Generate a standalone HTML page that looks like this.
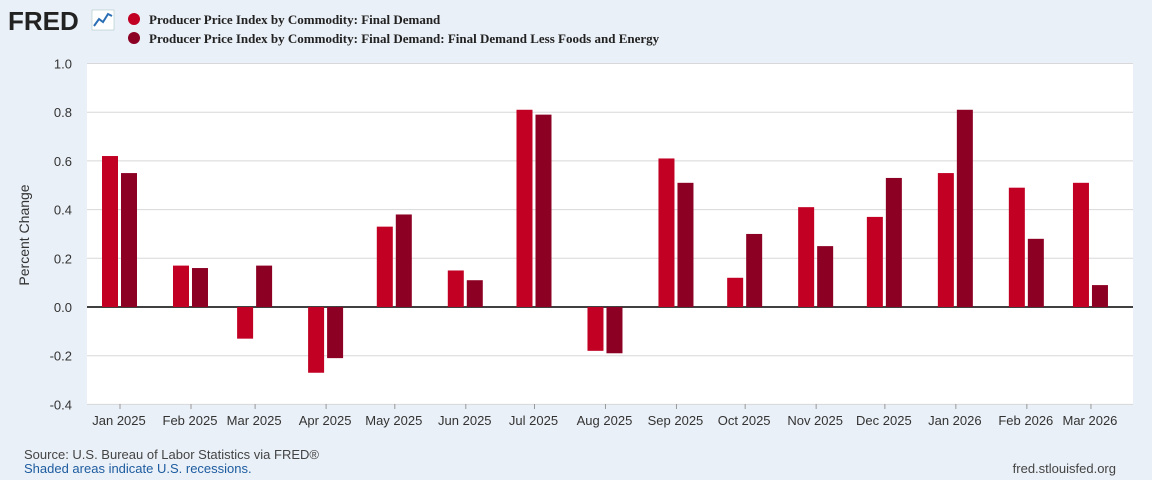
<!DOCTYPE html>
<html><head><meta charset="utf-8"><style>
body{margin:0;width:1152px;height:480px;background:#eaf0f7;font-family:"Liberation Sans",sans-serif;overflow:hidden}
svg{display:block}
</style></head><body>
<svg width="1152" height="480">
<g>
<text x="8" y="30" font-size="26" font-weight="bold" fill="#222" font-family="Liberation Sans">FRED</text>
<rect x="92" y="10" width="22" height="20" fill="#fff" stroke="#9bb" stroke-width="0.5"/>
<polyline points="94,26 99,19 103,22 108,14 112,16" fill="none" stroke="#2a6eb5" stroke-width="2"/>
</g>
<g>
<circle cx="134" cy="19" r="6" fill="#c10023"/>
<text x="149" y="24" font-family="Liberation Serif" font-weight="bold" font-size="13" fill="#222">Producer Price Index by Commodity: Final Demand</text>
<circle cx="134" cy="38" r="6" fill="#8c0024"/>
<text x="149" y="43" font-family="Liberation Serif" font-weight="bold" font-size="13" fill="#222">Producer Price Index by Commodity: Final Demand: Final Demand Less Foods and Energy</text>
</g>
<rect x="87" y="63" width="1046" height="341" fill="#fff"/>
<g id="grid"></g><g id="bars"></g><g id="axes"></g>
<text transform="translate(29,235) rotate(-90)" text-anchor="middle" font-size="14" fill="#333">Percent Change</text>
<text x="24" y="459" font-size="13" fill="#444">Source: U.S. Bureau of Labor Statistics via FRED®</text>
<text x="24" y="473" font-size="13" fill="#1d5ca0">Shaded areas indicate U.S. recessions.</text>
<text x="1116" y="473" text-anchor="end" font-size="13" fill="#444">fred.stlouisfed.org</text>
</svg>
<script>
const months=["2025-01","2025-02","2025-03","2025-04","2025-05","2025-06","2025-07","2025-08","2025-09","2025-10","2025-11","2025-12","2026-01","2026-02","2026-03"];
const monthLabels=["Jan 2025","Feb 2025","Mar 2025","Apr 2025","May 2025","Jun 2025","Jul 2025","Aug 2025","Sep 2025","Oct 2025","Nov 2025","Dec 2025","Jan 2026","Feb 2026","Mar 2026"];
const finalDemand=[0.62,0.17,-0.13,-0.27,0.33,0.15,0.81,-0.18,0.61,0.12,0.41,0.37,0.55,0.49,0.51];
const coreDemand=[0.55,0.16,0.17,-0.21,0.38,0.11,0.79,-0.19,0.51,0.30,0.25,0.53,0.81,0.28,0.09];
const yTicks=[1.0,0.8,0.6,0.4,0.2,0.0,-0.2,-0.4];
const NS="http://www.w3.org/2000/svg";
function y(v){return 307-v*243.5;}
const t0=Date.UTC(2025,0,1);
function x(m){const [yy,mm]=m.split("-").map(Number);const d=(Date.UTC(yy,mm-1,16)-t0)/86400000;return 120+d*2.29-15*2.29;}
function mk(tag,attrs,parent){const e=document.createElementNS(NS,tag);for(const k in attrs)e.setAttribute(k,attrs[k]);document.getElementById(parent).appendChild(e);return e;}
yTicks.forEach(v=>{
 const l=mk("line",{x1:87,x2:1133,y1:y(v),y2:y(v),stroke:v===0?"#000":"#d8d8d8","stroke-width":v===0?1.5:1},"grid");
 
 
 const t=mk("text",{x:72,y:y(v)+5,"text-anchor":"end","font-size":13,fill:"#333"},"axes");
 t.textContent=v.toFixed(1);
 
 
});
months.forEach((m,i)=>{
 const c=x(m);
 [[finalDemand[i],c-18,"#c10023","bar-final-demand"],[coreDemand[i],c+1,"#8c0024","bar-core"]].forEach(([v,bx,col,nm])=>{
  const r=mk("rect",{x:bx,width:16,y:Math.min(y(v),y(0)),height:Math.abs(y(v)-y(0)),fill:col},"bars");
  
  
 });
 const tk=mk("line",{x1:c,x2:c,y1:404,y2:409,stroke:"#999"},"axes");
 
 
 const t=mk("text",{x:c-1,y:425,"text-anchor":"middle","font-size":13,fill:"#333"},"axes");
 t.textContent=monthLabels[i];
 
 
});
</script>
</body></html>
